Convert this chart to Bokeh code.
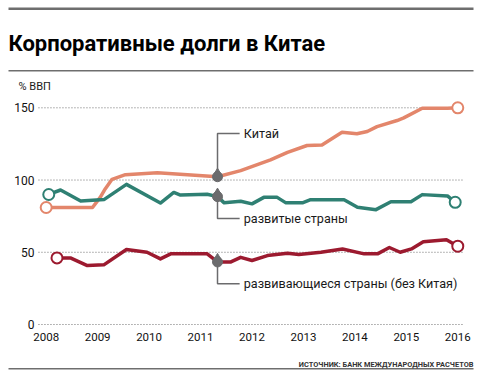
from bokeh.plotting import figure
from bokeh.models import Label, BoxAnnotation, Range1d
from bokeh.core.properties import value
from bokeh.embed import file_html
from bokeh.resources import INLINE

# ---------------- data ----------------
TITLE = "Корпоративные долги в Китае"
UNIT = "% ВВП"
SOURCE = "ИСТОЧНИК: БАНК МЕЖДУНАРОДНЫХ РАСЧЕТОВ"
YEARS = [2008, 2009, 2010, 2011, 2012, 2013, 2014, 2015, 2016]
Y_TICKS = [0, 50, 100, 150]

china_x = [2008.0, 2008.9, 2009.05, 2009.15, 2009.28, 2009.54, 2010.16, 2010.6, 2011.33,
           2011.78, 2012.36, 2012.69, 2013.07, 2013.36, 2013.75, 2014.04, 2014.24, 2014.43,
           2014.82, 2014.95, 2015.31, 2015.8, 2016.0]
china_y = [81, 81, 88, 94, 100.5, 103.7, 105, 104, 102.3,
           106.5, 114, 119.2, 123.9, 124.3, 133, 132, 133.6, 137,
           141.2, 143, 149.7, 149.7, 150]

dev_x = [2008.05, 2008.28, 2008.67, 2009.13, 2009.56, 2010.22, 2010.48, 2010.61, 2011.13,
         2011.33, 2011.46, 2011.78, 2012.0, 2012.23, 2012.49, 2012.66, 2012.98, 2013.14,
         2013.79, 2014.05, 2014.41, 2014.7, 2015.09, 2015.31, 2015.8, 2015.95]
dev_y = [90, 93.1, 85.5, 86.6, 97, 84.1, 91.4, 89.6, 90.2,
         88.5, 84.2, 85.3, 83.5, 88, 88, 84.2, 84.2, 86.4,
         86.4, 81.1, 79.5, 85, 85, 89.9, 89, 84.6]

emg_x = [2008.21, 2008.47, 2008.8, 2009.12, 2009.56, 2009.96, 2010.22, 2010.42, 2011.13,
         2011.33, 2011.59, 2011.78, 2012.0, 2012.3, 2012.69, 2012.91, 2013.34, 2013.76,
         2014.18, 2014.44, 2014.67, 2014.88, 2015.1, 2015.33, 2015.78, 2016.0]
emg_y = [46.1, 46.1, 40.8, 41.3, 51.9, 50, 45.4, 48.9, 48.9,
         43.3, 43.3, 46.5, 44.3, 47.7, 49.3, 48.4, 50, 52.3,
         48.9, 48.9, 53.3, 50, 52.3, 57.2, 58.7, 54.2]

LABELS = ["Китай", "развитые страны", "развивающиеся страны (без Китая)"]
PIN_X = 2011.33
PIN_Y = [102.3, 88.5, 43.3]
LABEL_Y = [132.2, 73.4, 28.2]
LEADER_END_X = 2011.76
LABEL_X = 2011.84

# ---------------- styles / layout ----------------
ORANGE = "#e3866b"
TEAL = "#2f8073"
RED = "#9c1a2f"
PIN = "#6b6b6d"
RULE = "#6e6e6e"
TXT = "#1a1a1a"
FONT = "Roboto"

W, H = 483, 380
X0, X1 = 2007.112, 2016.50      # full-canvas frame
Y0, Y1 = -38.76, 224.27
GRID_X0, GRID_X1 = 2007.85, 2016.11

p = figure(width=W, height=H, x_range=Range1d(X0, X1), y_range=Range1d(Y0, Y1),
           output_backend="svg", toolbar_location=None, title=None,
           x_axis_location=None, y_axis_location=None, min_border=0)
p.outline_line_color = None
p.grid.visible = False
p.background_fill_color = "white"

# gridlines
p.segment(x0=[GRID_X0] * len(Y_TICKS), x1=[GRID_X1] * len(Y_TICKS), y0=Y_TICKS, y1=Y_TICKS,
          line_color="#6f6f6f", line_width=1, line_dash="1 2")

# tick labels
p.text(x=[GRID_X0] * len(Y_TICKS), y=Y_TICKS, text=[str(v) for v in Y_TICKS],
       x_offset=-4, text_align="right", text_baseline="middle",
       text_font=value(FONT), text_font_size="12px", text_color="#111111")
p.text(x=YEARS, y=[0] * len(YEARS), text=[str(v) for v in YEARS],
       y_offset=12, text_align="center", text_baseline="middle",
       text_font=value(FONT), text_font_size="11.5px", text_color="#111111")

# series
for xs, ys, c in ((china_x, china_y, ORANGE), (dev_x, dev_y, TEAL), (emg_x, emg_y, RED)):
    p.line(xs, ys, line_color=c, line_width=3.5, line_join="round", line_cap="round")
    p.scatter([xs[0], xs[-1]], [ys[0], ys[-1]], marker="circle", size=11,
              fill_color="white", line_color=c, line_width=2)

# leaders and pins
tip = 4.5 * (Y1 - Y0) / H
for py, ly, txt in zip(PIN_Y, LABEL_Y, LABELS):
    p.line([PIN_X, PIN_X, LEADER_END_X], [py, ly, ly], line_color=PIN, line_width=1.5)
    p.scatter([PIN_X], [py + tip], marker="triangle", size=7, fill_color=PIN, line_color=PIN)
    p.scatter([PIN_X], [py], marker="circle", size=10, fill_color=PIN, line_color=PIN)
    p.add_layout(Label(x=LABEL_X, y=ly, text=txt, text_font=FONT, text_font_size="12.6px",
                       text_color=TXT, text_baseline="middle", text_align="left"))


# rules and texts in screen units (y measured up from the bottom)
def rule(x0, x1, top_px, bottom_px):
    p.add_layout(BoxAnnotation(left=x0, right=x1, top=H - top_px, bottom=H - bottom_px,
                               left_units="screen", right_units="screen",
                               top_units="screen", bottom_units="screen",
                               fill_color=RULE, fill_alpha=1, line_color=None))


rule(8, 473, 7, 9.5)
rule(8, 473, 69.5, 71)
rule(8, 473, 367.5, 369)

p.add_layout(Label(x=8, y=H - 43, x_units="screen", y_units="screen", text=TITLE,
                   text_font=FONT, text_font_style="bold", text_font_size="22px",
                   text_color="black", text_baseline="alphabetic", text_align="left"))
p.add_layout(Label(x=18, y=H - 86, x_units="screen", y_units="screen", text=UNIT,
                   text_font=FONT, text_font_size="11px",
                   text_color=TXT, text_baseline="alphabetic", text_align="left"))
p.add_layout(Label(x=473, y=H - 364, x_units="screen", y_units="screen", text=SOURCE,
                   text_font=FONT, text_font_size="7.4px", text_font_style="bold",
                   text_color="#333333", text_baseline="alphabetic", text_align="right"))

open("out.html", "w").write(file_html(p, INLINE))
